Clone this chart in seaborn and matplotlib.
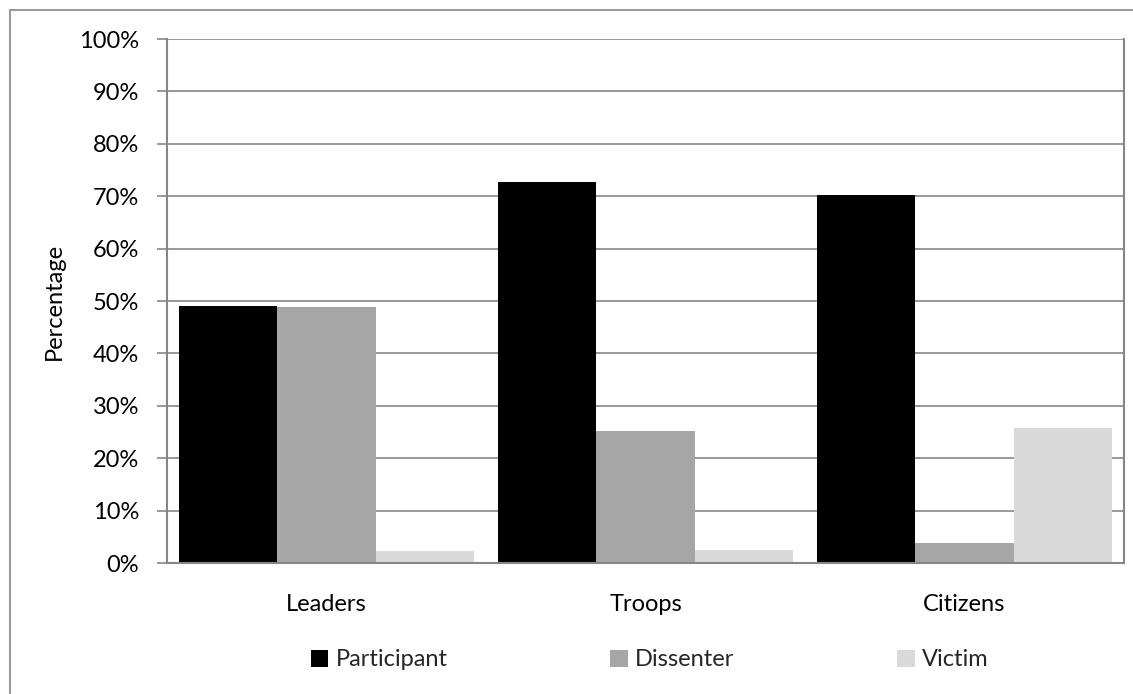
import matplotlib
matplotlib.use("Agg")
import matplotlib.pyplot as plt
from matplotlib.lines import Line2D
from matplotlib.patches import Patch
from matplotlib.ticker import FuncFormatter, MultipleLocator
import pandas as pd
import seaborn as sns

groups = ["Leaders", "Troops", "Citizens"]
roles = ["Participant", "Dissenter", "Victim"]
participant = [49.0, 72.7, 70.2]
dissenter = [48.8, 25.1, 3.9]
victim = [2.3, 2.4, 25.8]
role_colors = ["#000000", "#a6a6a6", "#d9d9d9"]

df = pd.DataFrame({
    "group": groups * 3,
    "role": [r for r in roles for _ in groups],
    "value": participant + dissenter + victim,
})

sns.set_theme(style="white")
plt.rcParams["font.family"] = ["Lato", "DejaVu Sans"]
FS = 17

fig = plt.figure(figsize=(11.33, 6.94), dpi=100)
ax = fig.add_axes([167 / 1133, 1 - 563 / 694, (1124 - 167) / 1133, (563 - 39) / 694])

sns.barplot(data=df, x="group", y="value", hue="role", order=groups,
            hue_order=roles, palette=role_colors, width=0.925, gap=0,
            saturation=1, linewidth=0, legend=False, ax=ax, zorder=3)

grid_c = "#868686"
ax.set_ylim(0, 100)
ax.set_xlim(-0.5, 2.5)
ax.yaxis.set_major_locator(MultipleLocator(10))
ax.yaxis.set_major_formatter(FuncFormatter(lambda v, _: f"{v:.0f}%"))
ax.grid(axis="y", color=grid_c, linewidth=1.2, zorder=0)
ax.set_axisbelow(True)
for side in ["left", "right", "bottom"]:
    ax.spines[side].set_visible(True)
    ax.spines[side].set_color(grid_c)
    ax.spines[side].set_linewidth(1.5)
    ax.spines[side].set_zorder(4)
ax.spines["top"].set_visible(False)

ax.tick_params(axis="y", direction="out", length=7, width=1.2, color=grid_c,
               pad=13, labelsize=FS, labelcolor="black", left=True)
ax.tick_params(axis="x", length=0, pad=22, labelsize=FS, labelcolor="black")
ax.set_xlabel("")
ax.set_ylabel("Percentage", fontsize=FS, color="black", labelpad=10)

handles = [Patch(facecolor=c, edgecolor="none") for c in role_colors]
fig.legend(handles, roles, loc="center", bbox_to_anchor=(0.5735, 0.049),
           ncol=3, frameon=False, fontsize=FS, handlelength=0.75,
           handleheight=0.75, handletextpad=0.3, columnspacing=6.9)

# chart frame
border_c = "#9a9a9a"
fig.add_artist(Line2D([9.5 / 1133, 9.5 / 1133], [0, 1 - 9.5 / 694],
                      transform=fig.transFigure, color=border_c, linewidth=1.5))
fig.add_artist(Line2D([9.5 / 1133, 1], [1 - 9.5 / 694, 1 - 9.5 / 694],
                      transform=fig.transFigure, color=border_c, linewidth=1.5))

fig.savefig("out.png", dpi=100, facecolor="white")
